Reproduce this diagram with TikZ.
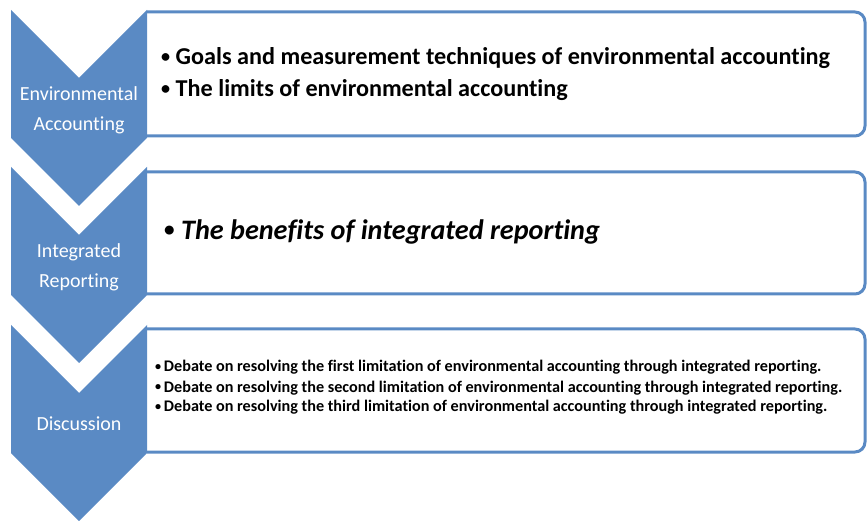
\documentclass[tikz,border=0pt]{standalone}
\usepackage{fontspec}
\setmainfont{Carlito}[Ligatures=NoCommon]
\definecolor{chevblue}{HTML}{5A8AC4}
\newcommand{\itembullet}{\raisebox{0.12em}{\scalebox{0.75}{•}}}
\tikzset{
    boxline/.style={draw=chevblue, line width=3pt, rounded corners=10pt},
    chevlabel/.style={text=white, font=\fontsize{20}{30}\selectfont, align=center, inner sep=0pt},
    bigitem/.style={anchor=base west, inner sep=0pt, font=\fontsize{24.2}{29}\selectfont\bfseries},
    smallitem/.style={anchor=base west, inner sep=0pt, font=\fontsize{16.2}{19}\selectfont\bfseries}
}
\begin{document}
\begin{tikzpicture}[x=1pt, y=-1pt]
    \useasboundingbox (0,0) rectangle (868,521);

    % Text boxes
    \foreach \ya/\yb in {12/136, 172/294, 329/452} {
        \draw[boxline] (147,\ya) -- (865,\ya) -- (865,\yb) -- (147,\yb);
    }

    % Chevrons
    \foreach \ya in {10, 167, 325} {
        \fill[chevblue] (11,\ya) -- (79,\ya+68) -- (147,\ya) -- (147,\ya+128)
            -- (79,\ya+196) -- (11,\ya+128) -- cycle;
    }

    % Chevron labels
    \node[chevlabel] (envlabel) at (79,110) {Environmental\\Accounting};
    \node[chevlabel] (intlabel) at (79,267) {Integrated\\Reporting};
    \node[chevlabel, anchor=base] (disclabel) at (79,430) {Discussion};

    % Environmental accounting
    \node[bigitem] (goals) at (161,65) {\itembullet\ Goals and measurement techniques of environmental accounting};
    \node[bigitem] (limits) at (161,97) {\itembullet\ The limits of environmental accounting};

    % Integrated reporting
    \node[bigitem, font=\fontsize{28.2}{33}\selectfont\bfseries] (benefits) at (164,240) {\itembullet\ \textit{The benefits of integrated reporting}};

    % Discussion
    \node[smallitem] (firstlim) at (155,372) {\itembullet\,Debate on resolving the first limitation of environmental accounting through integrated reporting.};
    \node[smallitem] (secondlim) at (155,392) {\itembullet\,Debate on resolving the second limitation of environmental accounting through integrated reporting.};
    \node[smallitem] (thirdlim) at (155,412) {\itembullet\,Debate on resolving the third limitation of environmental accounting through integrated reporting.};
\end{tikzpicture}
\end{document}
